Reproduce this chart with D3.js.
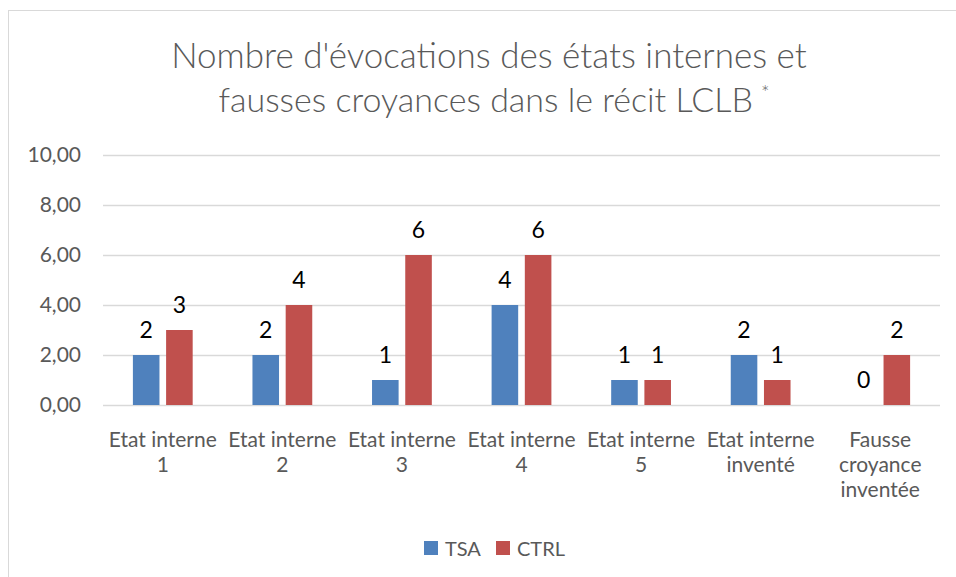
<!DOCTYPE html>
<html>
<head>
<meta charset="utf-8">
<script src="https://cdn.jsdelivr.net/npm/d3@7"></script>
<style>
  body { margin: 0; background: #fff; }
  text { font-family: Lato, "Open Sans", sans-serif; }
</style>
</head>
<body>
<svg id="chart" width="956" height="577"></svg>
<script>
var categories = [["Etat interne", "1"], ["Etat interne", "2"], ["Etat interne", "3"], ["Etat interne", "4"],
                  ["Etat interne", "5"], ["Etat interne", "inventé"], ["Fausse", "croyance", "inventée"]];
var seriesNames = ["TSA", "CTRL"];
var tsa = [2, 2, 1, 4, 1, 2, 0];
var ctrl = [3, 4, 6, 6, 1, 1, 2];
var yTicks = [0, 2, 4, 6, 8, 10];
var colors = ["#4f81bd", "#c0504d"];

var svg = d3.select("#chart"),
    margin = {top: 155, left: 103, right: 16, bottom: 172},
    width = 956 - margin.left - margin.right,
    height = 577 - margin.top - margin.bottom;

// outer frame
svg.append("rect")
    .attr("x", 8.5).attr("y", 10.5)
    .attr("width", 960).attr("height", 600)
    .attr("fill", "none").attr("stroke", "#d9d9d9");

// title
var title = svg.append("text")
    .attr("text-anchor", "middle")
    .attr("fill", "#595959")
    .attr("font-weight", 300)
    .attr("font-size", 35);
title.append("tspan").attr("x", 489).attr("y", 68).text("Nombre d'évocations des états internes et");
title.append("tspan").attr("x", 494).attr("y", 112).attr("font-size", 34).text("fausses croyances dans le récit LCLB");
title.append("tspan").attr("font-size", 20).attr("dx", 8).attr("dy", -12).text("*");

var g = svg.append("g").attr("transform", "translate(" + margin.left + "," + margin.top + ")");

var idx = d3.range(categories.length);
var x0 = d3.scaleBand().domain(idx).range([0, width]).paddingInner(0.5).paddingOuter(0.25);
var x1 = d3.scaleBand().domain([0, 1]).range([0, x0.bandwidth()]).paddingInner(0.2);
var y = d3.scaleLinear().domain([0, 10]).range([height, 0]);

// gridlines
g.selectAll(".grid")
    .data(yTicks)
    .enter().append("line")
    .attr("x1", 0).attr("x2", width)
    .attr("y1", function(d) { return Math.round(y(d)) + 0.5; })
    .attr("y2", function(d) { return Math.round(y(d)) + 0.5; })
    .attr("stroke", "#d9d9d9").attr("stroke-width", 1.3);

// y axis labels
var yAxis = g.append("g").call(d3.axisLeft(y).tickValues(yTicks).tickSize(0).tickPadding(22)
    .tickFormat(function(d) { return d3.format(".2f")(d).replace(".", ","); }));
yAxis.select(".domain").remove();
yAxis.selectAll("text").attr("font-size", 21).attr("fill", "#595959").style("font-family", "Lato, sans-serif");

// bars
var groups = g.selectAll(".grp")
    .data(idx)
    .enter().append("g")
    .attr("transform", function(i) { return "translate(" + x0(i) + ",0)"; });

var pairs = function(i) { return [{s: 0, v: tsa[i]}, {s: 1, v: ctrl[i]}]; };

groups.selectAll("rect")
    .data(pairs)
    .enter().append("rect")
    .attr("x", function(d) { return x1(d.s); })
    .attr("y", function(d) { return y(d.v); })
    .attr("width", x1.bandwidth())
    .attr("height", function(d) { return height - y(d.v); })
    .attr("fill", function(d) { return colors[d.s]; });

groups.selectAll(".lbl")
    .data(pairs)
    .enter().append("text")
    .attr("x", function(d) { return x1(d.s) + x1.bandwidth() / 2; })
    .attr("y", function(d) { return y(d.v) - 17; })
    .attr("text-anchor", "middle")
    .attr("font-size", 23)
    .attr("fill", "#000")
    .text(function(d) { return d.v; });

// category labels
var xl = g.selectAll(".cat")
    .data(idx)
    .enter().append("text")
    .attr("text-anchor", "middle")
    .attr("font-size", 21)
    .attr("fill", "#595959")
    .attr("transform", function(i) { return "translate(" + (x0(i) + x0.bandwidth() / 2) + "," + (height + 42) + ")"; });
xl.selectAll("tspan")
    .data(function(i) { return categories[i]; })
    .enter().append("tspan")
    .attr("x", 0)
    .attr("y", function(d, k) { return k * 25; })
    .text(function(d) { return d; });

// legend
var legend = svg.append("g").attr("transform", "translate(424,541)");
var li = legend.selectAll("g")
    .data(seriesNames)
    .enter().append("g")
    .attr("transform", function(d, i) { return "translate(" + (i * 72) + ",0)"; });
li.append("rect").attr("width", 14).attr("height", 14)
    .attr("fill", function(d, i) { return colors[i]; });
li.append("text").attr("x", 21).attr("y", 15)
    .attr("font-size", 20).attr("fill", "#595959")
    .text(function(d) { return d; });
</script>
</body>
</html>
